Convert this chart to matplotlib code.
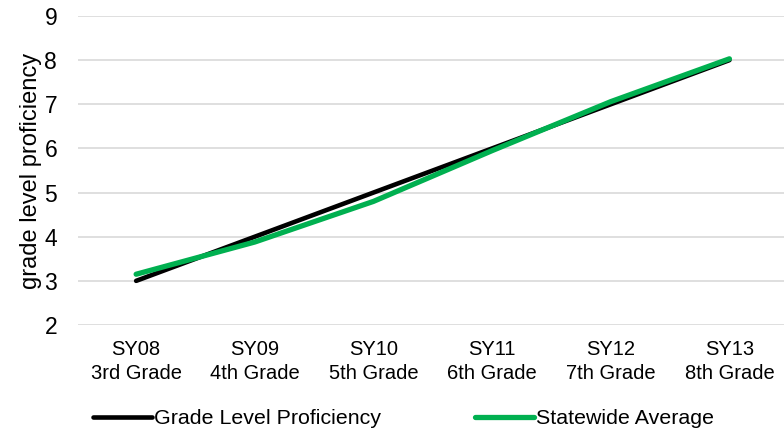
import matplotlib
matplotlib.use("Agg")
import matplotlib.pyplot as plt

plt.rcParams['font.family'] = ['Liberation Sans', 'DejaVu Sans']

years = ["SY08", "SY09", "SY10", "SY11", "SY12", "SY13"]
grades = ["3rd Grade", "4th Grade", "5th Grade", "6th Grade", "7th Grade", "8th Grade"]
grade_level = [3, 4, 5, 6, 7, 8]
statewide = [3.15, 3.88, 4.8, 5.95, 7.06, 8.03]

fig = plt.figure(figsize=(7.84, 4.29), dpi=100)
ax = fig.add_axes([78/784, 104/429, 1 - 78/784, (325-16)/429])

x = list(range(len(years)))
ax.plot(x, grade_level, color='black', lw=3.3, solid_capstyle='round',
        label='Grade Level Proficiency', zorder=3)
ax.plot(x, statewide, color='#00b050', lw=3.8, solid_capstyle='round',
        label='Statewide Average', zorder=4)

ax.set_xlim(-0.49, 5.46)
ax.set_ylim(2, 9)
ax.set_yticks(range(2, 10))
ax.set_xticks(x)
ax.set_xticklabels([f"{a}\n{b}" for a, b in zip(years, grades)], fontsize=14.5,
                   color='#000000', linespacing=1.32)
ax.tick_params(axis='y', labelsize=16.5, length=0, pad=15)
ax.tick_params(axis='x', length=0, pad=11)
ax.grid(axis='y', color='#d9d9d9', lw=1.2)
ax.set_axisbelow(True)
for s in ax.spines.values():
    s.set_visible(False)
ax.set_ylabel('grade level proficiency', fontsize=17, labelpad=2)

fig.legend(loc='center left', bbox_to_anchor=(93/784, 1 - 419/429), ncol=2, frameon=False,
           fontsize=15.4, handlelength=2.75, handletextpad=0.1, columnspacing=4.4,
           borderaxespad=0, borderpad=0)

fig.savefig('out.png', dpi=100)
